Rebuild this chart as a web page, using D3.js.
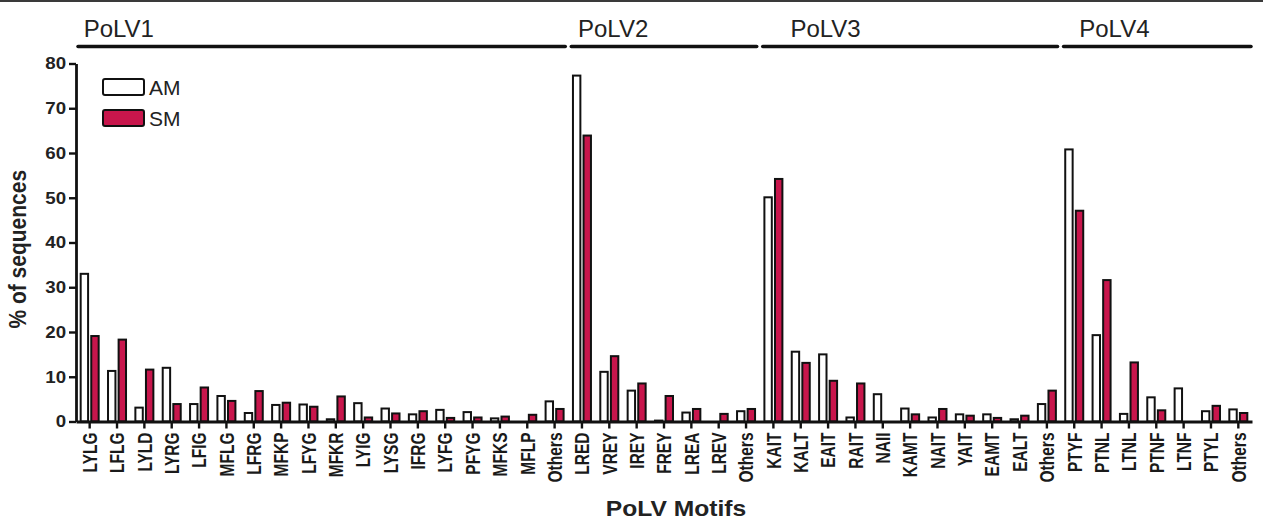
<!DOCTYPE html>
<html>
<head>
<meta charset="utf-8">
<script src="https://cdn.jsdelivr.net/npm/d3@7"></script>
<style>
  html, body { margin: 0; padding: 0; background: #fff; }
  svg { display: block; font-family: "Liberation Sans", Arial, sans-serif; }
</style>
</head>
<body>
<div id="chart"></div>
<script>
// PoLV motif frequencies, AM vs SM
const groups = ['PoLV1', 'PoLV2', 'PoLV3', 'PoLV4'];
const motifsV1 = ['LYLG','LFLG','LYLD','LYRG','LFIG','MFLG','LFRG','MFKP','LFYG','MFKR','LYIG','LYSG','IFRG','LYFG','PFYG','MFKS','MFLP','Others'];
const motifsV2 = ['LRED','VREY','IREY','FREY','LREA','LREV','Others'];
const motifsV3 = ['KAIT','KALT','EAIT','RAIT','NAII','KAMT','NAIT','YAIT','EAMT','EALT','Others'];
const motifsV4 = ['PTYF','PTNL','LTNL','PTNF','LTNF','PTYL','Others'];
const series = ['AM', 'SM'];

const amV1 = [33, 11.3, 3.1, 12, 3.9, 5.7, 1.9, 3.7, 3.8, 0.5, 4.1, 2.9, 1.6, 2.6, 2.1, 0.7, 0, 4.5];
const amV2 = [77.3, 11.1, 6.9, 0.2, 2.0, 0, 2.3];
const amV3 = [50.1, 15.6, 15.0, 0.9, 6.1, 2.9, 0.9, 1.6, 1.6, 0.5, 3.9];
const amV4 = [60.8, 19.3, 1.7, 5.4, 7.4, 2.3, 2.7];

const smV1 = [19.1, 18.3, 11.6, 3.9, 7.6, 4.6, 6.8, 4.2, 3.3, 5.6, 0.9, 1.8, 2.3, 0.8, 0.9, 1.1, 1.5, 2.8];
const smV2 = [63.9, 14.6, 8.5, 5.7, 2.8, 1.7, 2.8];
const smV3 = [54.2, 13.1, 9.1, 8.5, 0, 1.6, 2.8, 1.3, 0.8, 1.3, 6.9];
const smV4 = [47.1, 31.6, 13.2, 2.5, 0, 3.5, 1.9];

const yTicks = [0, 10, 20, 30, 40, 50, 60, 70, 80];

// build rows
const motifLists = [motifsV1, motifsV2, motifsV3, motifsV4];
const amLists = [amV1, amV2, amV3, amV4];
const smLists = [smV1, smV2, smV3, smV4];
const rows = [];
motifLists.forEach((list, gi) => {
  list.forEach((m, i) => {
    rows.push({ key: gi + '-' + i, motif: m, group: gi, AM: amLists[gi][i], SM: smLists[gi][i] });
  });
});

const W = 1263, H = 521;
const colors = { AM: '#ffffff', SM: '#c8164c' };

const svg = d3.select('#chart').append('svg')
  .attr('width', W).attr('height', H);

// thin dark frame edge at the top
svg.append('rect').attr('x', 0).attr('y', 0).attr('width', W).attr('height', 2).attr('fill', '#3a3a3a');

const x = d3.scaleBand().domain(rows.map(d => d.key)).range([76, 1252]).paddingInner(0).paddingOuter(0);
const xs = d3.scaleBand().domain(series).range([-9, 9]).paddingInner(0.3);
const y = d3.scaleLinear().domain([0, 80]).range([421.5, 63.5]);
const cx = k => x(k) + x.bandwidth() / 2;

// bars
const g = svg.append('g');
g.selectAll('g.cat')
  .data(rows)
  .join('g')
  .attr('class', 'cat')
  .attr('transform', d => `translate(${cx(d.key)},0)`)
  .selectAll('rect')
  .data(d => series.map(s => ({ s, v: d[s] })).filter(e => e.v > 0))
  .join('rect')
  .attr('x', e => xs(e.s))
  .attr('width', xs.bandwidth())
  .attr('y', e => y(e.v))
  .attr('height', e => y(0) - y(e.v))
  .attr('fill', e => colors[e.s])
  .attr('stroke', '#111')
  .attr('stroke-width', 2);

// y axis
const yAxis = svg.append('g')
  .attr('transform', 'translate(76,0)')
  .call(d3.axisLeft(y).tickValues(yTicks).tickSize(7).tickSizeOuter(0));
yAxis.select('.domain').attr('stroke', '#111').attr('stroke-width', 2.8);
yAxis.selectAll('.tick line').attr('stroke', '#111').attr('stroke-width', 2.4);
yAxis.selectAll('.tick text')
  .attr('x', -9)
  .attr('transform', 'scale(1.1,1)')
  .attr('fill', '#222')
  .attr('font-size', 17)
  .attr('font-weight', 'bold');

// x axis
const xAxis = svg.append('g')
  .attr('transform', `translate(0,${y(0)})`)
  .call(d3.axisBottom(x).tickSize(7).tickSizeOuter(0).tickFormat(k => rows.find(r => r.key === k).motif));
xAxis.select('.domain').attr('stroke', '#111').attr('stroke-width', 2.8);
xAxis.selectAll('.tick line').attr('stroke', '#111').attr('stroke-width', 2.4);
xAxis.selectAll('.tick text')
  .attr('x', 0).attr('y', 0).attr('dy', '0.36em')
  .attr('text-anchor', 'end')
  .attr('transform', 'translate(0,11) scale(1.3,1) rotate(-90)')
  .attr('fill', '#1a1a1a')
  .attr('font-size', 15.5)
  .attr('font-weight', 'bold');

// axis titles
svg.append('text')
  .attr('transform', 'translate(676,516) scale(1.12,1)')
  .attr('text-anchor', 'middle')
  .attr('font-size', 22).attr('font-weight', 'bold').attr('fill', '#222')
  .text('PoLV Motifs');

svg.append('text')
  .attr('transform', `translate(26,${y(38.5)}) scale(1.12,1) rotate(-90)`)
  .attr('text-anchor', 'middle')
  .attr('font-size', 21).attr('font-weight', 'bold').attr('fill', '#222')
  .text('% of sequences');

// group headers
const headerDx = [-6, -4, 17, 5];
groups.forEach((name, gi) => {
  const grp = rows.filter(r => r.group === gi);
  const first = grp[0].key, last = grp[grp.length - 1].key;
  const x0 = x(first) + (gi === 0 ? 2 : 3);
  const x1 = x(last) + x.step() - (gi === groups.length - 1 ? 1 : 3);
  svg.append('line')
    .attr('x1', x0).attr('x2', x1)
    .attr('y1', 46.5).attr('y2', 46.5)
    .attr('stroke', '#111').attr('stroke-width', 3.5).attr('stroke-linecap', 'round');
  svg.append('text')
    .attr('x', cx(first) + headerDx[gi]).attr('y', 37)
    .attr('font-size', 24).attr('fill', '#222')
    .text(name);
});

// legend
const legend = svg.append('g').attr('transform', 'translate(103,79)');
series.forEach((s, i) => {
  const row = legend.append('g').attr('transform', `translate(0,${i * 31})`);
  row.append('rect')
    .attr('width', 41).attr('height', 16).attr('rx', 2)
    .attr('fill', colors[s]).attr('stroke', '#111').attr('stroke-width', 2);
  row.append('text')
    .attr('x', 46).attr('y', 16)
    .attr('font-size', 21).attr('fill', '#222')
    .text(s);
});
</script>
</body>
</html>
